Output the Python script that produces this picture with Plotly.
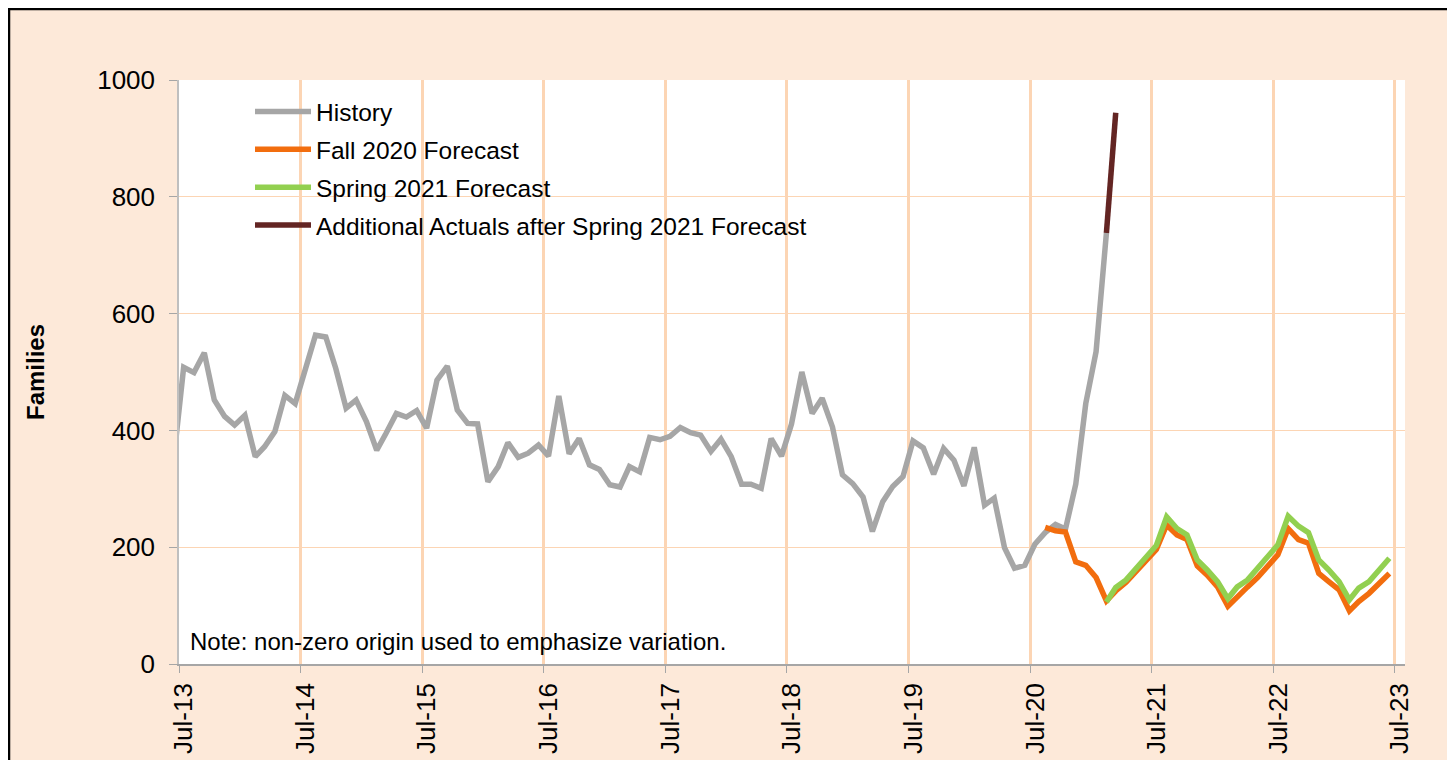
import pandas as pd
import plotly.graph_objects as go

# ---------------- data (monthly values) ----------------
history_start = "2013-06"
history = [
    350, 508, 499, 533, 452, 424, 409,                                   # Jun-Dec 2013
    426, 355, 372, 398, 460, 446, 505, 563, 560, 506, 438, 452,          # 2014
    415, 366, 395, 429, 423, 434, 404, 486, 510, 435, 412, 411,          # 2015
    312, 338, 379, 354, 361, 375, 356, 459, 360, 386, 341, 333,          # 2016
    307, 303, 338, 329, 388, 384, 390, 405, 396, 392, 364, 385,          # 2017
    355, 308, 308, 301, 386, 356, 411, 500, 429, 455, 406, 324,          # 2018
    309, 286, 227, 278, 304, 321, 382, 370, 325, 369, 349, 305,          # 2019
    371, 272, 284, 199, 164, 169, 205, 225, 239, 231, 308, 446,          # 2020
    535, 738,                                                            # Jan-Feb 2021
]

fall2020_start = "2020-08"
fall2020 = [
    234, 228, 226, 175, 169,                                             # Aug-Dec 2020
    148, 108, 125, 140, 158, 176, 196, 238, 221, 213, 168, 152,          # 2021
    132, 99, 116, 132, 148, 167, 187, 232, 213, 207, 155, 141,           # 2022
    127, 91, 107, 121, 138, 155,                                         # Jan-Jun 2023
]

spring2021_start = "2021-02"
spring2021 = [
    106, 131, 144, 164, 184, 203, 252, 232, 221, 178, 161,               # Feb-Dec 2021
    141, 112, 132, 144, 164, 184, 204, 253, 236, 225, 178, 161,          # 2022
    141, 110, 130, 141, 161, 181,                                        # Jan-Jun 2023
]

additional_start = "2021-02"
additional = [738, 944]

series_names = ["History", "Fall 2020 Forecast", "Spring 2021 Forecast",
                "Additional Actuals after Spring 2021 Forecast"]
series_colors = ["#A6A6A6", "#F26D0E", "#92D050", "#632523"]

tick_years = list(range(2013, 2024))
tick_labels = [f"Jul-{y % 100:02d}" for y in tick_years]
y_ticks = [0, 200, 400, 600, 800, 1000]


def month_dates(start, n):
    # values are plotted mid-month
    return pd.date_range(start=start + "-01", periods=n, freq="MS") + pd.Timedelta(days=14)


FONT = "Liberation Sans, Arial, sans-serif"

fig = go.Figure()
for name, color, start, vals in zip(
        series_names, series_colors,
        [history_start, fall2020_start, spring2021_start, additional_start],
        [history, fall2020, spring2021, additional]):
    fig.add_trace(go.Scatter(
        x=month_dates(start, len(vals)), y=vals, name=name, mode="lines",
        line=dict(color=color, width=5.5), legendgroup=name,
    ))

# geometry: the page body adds an 8px offset, so work in window pixels and convert
OFF = 8
W, H = 1455 - OFF, 760 - OFF
PLOT_L, PLOT_R, PLOT_T, PLOT_B = 179, 1405, 80, 664          # window pixels
L, T = PLOT_L - OFF, PLOT_T - OFF
PW, PH = PLOT_R - PLOT_L, PLOT_B - PLOT_T
R, B = W - L - PW, H - T - PH


def px_x(p):
    return (p - PLOT_L) / PW


def px_y(p):
    return (PLOT_B - p) / PH


fig.update_layout(
    width=W, height=H,
    margin=dict(l=L, r=R, t=T, b=B, autoexpand=False),
    paper_bgcolor="#FDE9D9",
    plot_bgcolor="#FFFFFF",
    font=dict(family=FONT, color="#000000", size=24),
    showlegend=True,
    legend=dict(
        x=px_x(250), y=px_y(89), xanchor="left", yanchor="top",
        bgcolor="rgba(255,255,255,0)", borderwidth=0,
        font=dict(size=24.5, family=FONT), itemwidth=56,
        traceorder="grouped", tracegroupgap=3,
    ),
    xaxis=dict(
        type="date",
        range=["2013-07-01", "2023-08-01"],
        tickmode="array",
        tickvals=[f"{y}-07-01" for y in tick_years],
        ticktext=tick_labels,
        tickangle=-90,
        tickfont=dict(size=26, family=FONT),
        ticks="outside", ticklen=7, tickcolor="#A6A6A6", tickwidth=1,
        ticklabelshift=5,
        showgrid=True, gridcolor="#FCD5B4", gridwidth=2.5,
        showline=True, linecolor="#A6A6A6", linewidth=1.5,
        zeroline=False, fixedrange=True,
    ),
    yaxis=dict(
        range=[0, 1000],
        tickmode="array", tickvals=y_ticks,
        tickfont=dict(size=26, family=FONT),
        ticks="outside", ticklen=8, tickcolor="#A6A6A6", tickwidth=1,
        ticklabelstandoff=9,
        showgrid=True, gridcolor="#FCD5B4", gridwidth=1,
        showline=True, linecolor="#BFBFBF", linewidth=1.5,
        zeroline=False, fixedrange=True,
        title=dict(text="<b>Families</b>", font=dict(size=24, family=FONT), standoff=46),
    ),
    shapes=[
        # legend box background (hides gridlines behind it)
        dict(type="rect", xref="paper", yref="paper", layer="between",
             x0=px_x(200), x1=px_x(865), y0=px_y(248), y1=px_y(95),
             fillcolor="#FFFFFF", line=dict(width=0)),
        # outer chart border
        dict(type="rect", xref="paper", yref="paper", layer="above",
             x0=px_x(9), x1=px_x(1470), y0=px_y(775), y1=px_y(9),
             fillcolor="rgba(0,0,0,0)", line=dict(color="#000000", width=2.5)),
    ],
    annotations=[
        dict(text="Note: non-zero origin used to emphasize variation.",
             xref="paper", yref="paper", x=px_x(188), y=px_y(641),
             xanchor="left", yanchor="middle", showarrow=False,
             font=dict(size=24, family=FONT)),
    ],
)

fig.write_html("out.html")
